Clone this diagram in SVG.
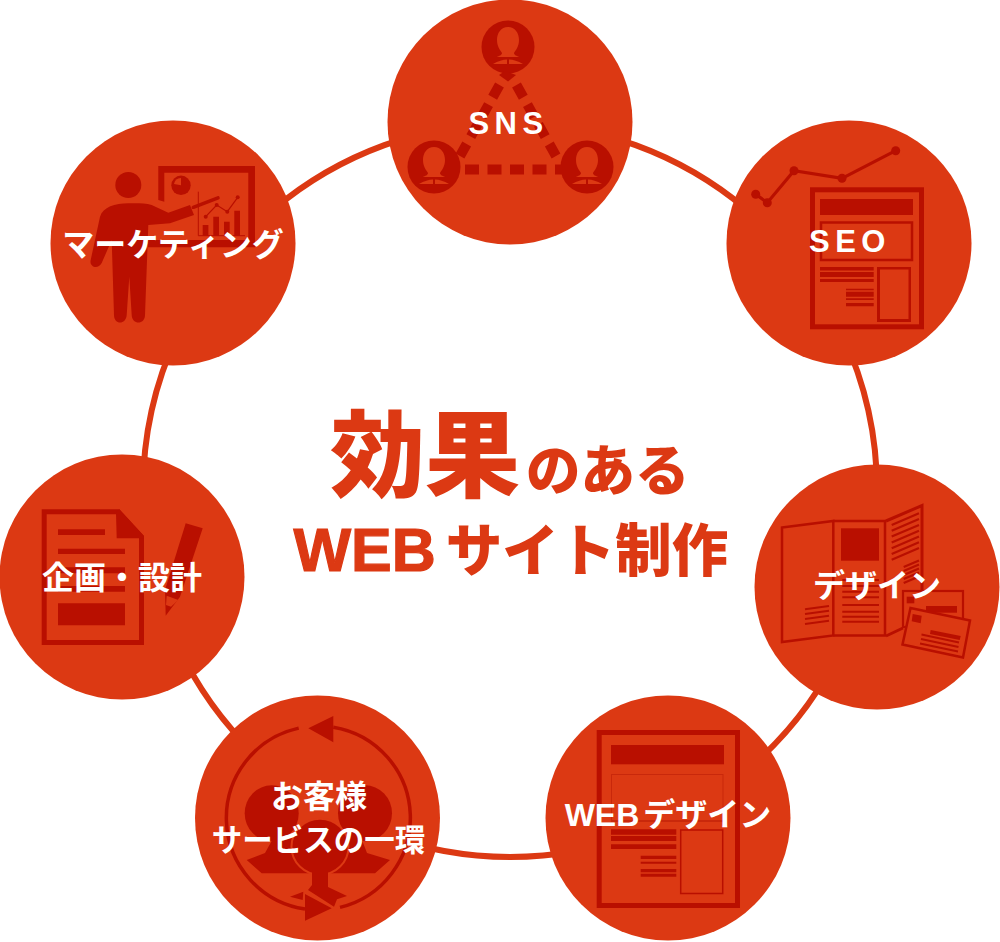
<svg xmlns="http://www.w3.org/2000/svg" width="1000" height="942" viewBox="0 0 1000 942">
<style>
.disc{fill:#dc3913}
.d{fill:#b90f00}
.o{fill:#dc3913}
.ln{fill:none;stroke:#b90f00}
.lab{fill:#fff;font-family:"Liberation Sans","Noto Sans CJK JP",sans-serif;font-weight:700;font-size:32px;text-anchor:middle}
.ttl{fill:#dc3913;font-family:"Liberation Sans","Noto Sans CJK JP",sans-serif;font-weight:900}
</style>
<defs>
<g id="user">
<circle class="d" r="26.500"/>
<path class="o" d="M0,-20C7,-20 11,-14 11,-7C11,-1 8,3 6,6C6,8 9,9 11,10L-11,10C-9,9 -6,8 -6,6C-8,3 -11,-1 -11,-7C-11,-14 -7,-20 0,-20ZM-15,17C-10,14 -5,12.500 -1,12.500L-1,17ZM1,12.500C5,12.500 10,14 15,17L1,17Z"/>
</g>
</defs>
<g id="connectors" fill="none" stroke="#dc3913" stroke-width="6">
<path d="M510,123A367,367 0 0 1 746,209"/>
<path d="M746,209A367,367 0 0 1 877,490"/>
<path d="M877,490A367,367 0 0 1 746,771"/>
<path d="M746,771A367,367 0 0 1 274,771"/>
<path d="M274,771A367,367 0 0 1 143,490"/>
<path d="M143,490A367,367 0 0 1 274,209"/>
<path d="M274,209A367,367 0 0 1 510,123"/>
</g>
<g id="node-sns">
<circle class="disc" cx="510" cy="122" r="122.500"/>
<use href="#user" x="508" y="47"/>
<use href="#user" x="434" y="167"/>
<use href="#user" x="587" y="167"/>
<path class="ln" stroke-width="10" stroke-dasharray="14 8.500" d="M465,169.500H562"/>
<path class="ln" stroke-width="10" stroke-dasharray="14 8.500" d="M499.500,85L460,156"/>
<path class="ln" stroke-width="10" stroke-dasharray="14 8.500" d="M516.500,85L556,156"/>
<path class="d" d="M505,71L516,75L508,81.500L499,75Z"/>
<text class="lab" x="508.500" y="134" letter-spacing="5.500" style="font-size:31px">SNS</text>
</g>
<g id="node-seo">
<circle class="disc" cx="849" cy="243" r="122.500"/>
<rect class="ln" x="812.500" y="189.800" width="109" height="137" stroke-width="5"/>
<rect class="d" x="820" y="199" width="93" height="16"/>
<rect class="ln" x="821" y="222.500" width="91" height="37.500" stroke-width="2.500"/>
<path class="d" d="M820,267h53.700v3.500h-53.700zM820,272h53.700v5h-53.700zM820,279h53.700v3h-53.700zM846,288.700h27.700v1.600h-27.700zM846,291.700h27.700v5h-27.700zM846,298.300h27.700v1.700h-27.700zM846,303h27.700v3.300h-27.700z"/>
<path class="d" fill-rule="evenodd" d="M877,267h34v55h-34zM880,269.500v49.500h28.500v-49.500z"/>
<path class="ln" stroke-width="3.200" d="M755.700,194.300L767.300,202.700L794,170.700L842,178.300L895.700,150.700"/>
<g class="d"><circle cx="755.700" cy="194.300" r="4.500"/><circle cx="767.300" cy="202.700" r="4.500"/><circle cx="794" cy="170.700" r="4.500"/><circle cx="842" cy="178.300" r="4.500"/><circle cx="895.700" cy="150.700" r="4.500"/></g>
<text class="lab" x="850" y="251.500" letter-spacing="5.500" style="font-size:31px">SEO</text>
</g>
<g id="node-design">
<circle class="disc" cx="877" cy="587" r="122.500"/>
<path class="ln" stroke-width="2.500" d="M782,527.500L833.300,521V635.500L782,642Z"/>
<path class="ln" stroke-width="2.500" d="M833.300,521H885V635.500H833.300"/>
<path class="ln" stroke-width="3" d="M886,521L922,505.500V592M886,636L903,628"/>
<rect class="d" x="841" y="528.300" width="38" height="32.400"/>
<path class="ln" stroke-width="2" d="M842.300,580H879M842.300,586H879M842.300,591.700H879M842.300,597.300H879M842.300,605H879M842.300,611.700H879M842.300,616.700H879M842.300,621.700H879"/>
<path class="ln" stroke-width="2" d="M805,609.300L829,606M805,614L829,610.700M805,619L829,615.700M805,624L829,620.700"/>
<path class="ln" stroke-width="2.200" d="M891.700,525L919,513.300M891.700,530.800L919,519.100M891.700,536.600L919,524.900M891.700,542.400L919,530.700M891.700,548.200L919,536.500M891.700,554L919,542.300M891.700,559.800L919,548.100M903.700,567L919,560.500M903.700,571L919,564.500M903.700,575L919,568.500M903.700,579L919,572.500M903.700,583L919,576.500"/>
<rect class="o" x="903" y="591" width="60" height="36" stroke="#b90f00" stroke-width="2.200"/>
<rect class="d" x="906.700" y="596.700" width="7.600" height="6.600"/>
<rect class="d" x="926" y="606" width="31" height="6.700"/>
<path class="o" stroke="#b90f00" stroke-width="2.500" d="M910.500,608L970,620.500L963,657.500L902.500,644.500Z"/>
<path class="d" d="M912.700,614L921.700,615.700L920.700,623.300L911.700,621.300ZM930.700,630L960.700,636L959.700,640L930,634Z"/>
<path class="ln" stroke-width="1.800" d="M921.500,634.500L959,642.500M921,639L958.500,647M920,643.500L958,651.500"/>
<text class="lab" x="877" y="597">デザイン</text>
</g>
<g id="node-web">
<circle class="disc" cx="668" cy="818" r="122.500"/>
<rect class="ln" x="599.200" y="732.500" width="138.300" height="173" stroke-width="5"/>
<rect class="d" x="611" y="745" width="113" height="19.300"/>
<rect x="611.500" y="774.500" width="111.500" height="46" fill="none" stroke="#c9280b" stroke-width="1"/>
<path d="M611,821H723" stroke="#c9280b" stroke-width="2"/>
<path class="d" d="M611,829.300h65.300v5.400h-65.300zM611,836h65.300v5h-65.300zM611,844.300h65.300v4.700h-65.300zM640.700,855.700h35.600v3.300h-35.600zM640.700,861.700h35.600v2h-35.600zM640.700,869h35.600v3.300h-35.600zM640.700,873.700h35.600v3h-35.600z"/>
<rect class="ln" x="680.700" y="830" width="42" height="63.500" stroke-width="1.500"/>
<text class="lab" x="668" y="825.500">WEB<tspan dx="4">デザイン</tspan></text>
</g>
<g id="node-customer">
<circle class="disc" cx="317.500" cy="818" r="122.500"/>
<path class="ln" stroke-width="3.500" d="M298.700,728.100A92,92 0 0 0 305,909M333.300,727.200A92,92 0 0 1 340,907.400"/>
<path class="d" d="M333.300,716V742.300L308.300,728.300ZM305,894V920.700L331.700,908.300Z"/>
<ellipse class="d" cx="271.700" cy="813.300" rx="27" ry="28"/>
<ellipse class="d" cx="365" cy="813.300" rx="27" ry="28"/>
<path class="d" d="M246.700,860L265,853L275,835H360L367,853L390,860L375,873.300H261.700Z"/>
<ellipse cx="320" cy="846.700" rx="28.500" ry="28" class="d" stroke="#dc3913" stroke-width="2"/>
<path class="d" d="M312,868H328V887L347,896L337,899.300L334,906.700L308,890L312,885ZM290,896.700L303.300,891.700L302.700,900Z"/>
<text class="lab"><tspan x="319" y="808">お客様</tspan><tspan x="318.500" y="851" style="font-size:30.500px">サービスの一環</tspan></text>
</g>
<g id="node-plan">
<circle class="disc" cx="122" cy="577" r="122.500"/>
<path class="ln" stroke-width="5" d="M44.200,511.800H118.300L141.500,537V642.500H44.200Z"/>
<path class="d" d="M119.300,509.300L144,536L144,538.300L116.700,538.300L116,513Z"/>
<path class="d" d="M58,529.300h47v5.700h-47zM58,548.700h67v5.300h-67zM58,567.300h67v6h-67zM58,586h67v5.700h-67zM58,603.300h67v22h-67z"/>
<path class="d" d="M185.700,523.300L202.700,528.300L180,596.700L165.700,615.700L165,590Z"/>
<path class="o" d="M166.700,595.700L178.300,600L171,606.700L166,605Z"/>
<text class="lab" x="122" y="588.500">企画・設計</text>
</g>
<g id="node-marketing">
<circle class="disc" cx="173" cy="243" r="122.500"/>
<path class="d" d="M158.300,166H255V247.300H148V240H248.300V172.700H164.300V201.700L158.300,200Z"/>
<circle class="d" cx="181" cy="185.300" r="9.700"/>
<path class="o" d="M181,185.300V178A7.300,7.300 0 0 0 174,184Z"/>
<path class="ln" stroke-width="1" d="M198.300,191.700V235.700H245"/>
<path class="d" d="M202.700,225h5.700v10.700h-5.700zM213.300,216.700h5.700v19h-5.700zM224,221.700h5.700v14h-5.700zM234.300,210.700h5.700v25h-5.700z"/>
<path class="ln" stroke-width="1.200" d="M205.700,216.700L216.700,205L227.300,211.700L237.700,197.300"/>
<g class="d"><circle cx="205.700" cy="216.700" r="2"/><circle cx="216.700" cy="205" r="2"/><circle cx="227.300" cy="211.700" r="2"/><circle cx="237.700" cy="197.300" r="2"/></g>
<circle class="d" cx="128.300" cy="185" r="13"/>
<path class="d" d="M128.300,203.300C137,203.300 145,203 151.700,205L168.300,212.700L190,205L194,215L170,223.300L148.300,225L145,315C145,325 132,325 131.700,315L129.300,276.700L126.700,315C126,325 114,325 114,315L111.700,240L101.700,263C98,270 89,267 90.700,260L100,216.700C103,207 115,203.300 128.300,203.300Z"/>
<path class="ln" stroke-width="3.500" stroke-linecap="round" d="M193.300,207.300L218,197.800"/>
<text class="lab" x="173" y="256">マーケティング</text>
</g>
<g id="title">
<text class="ttl" x="330" y="490" font-size="95">効果<tspan font-size="54.500" dx="6">のある</tspan></text>
<text class="ttl" x="293.500" y="571" font-size="61"><tspan stroke="#dc3913" stroke-width="1.200">WEB</tspan><tspan font-size="56.500" dx="10">サイト制作</tspan></text>
</g>
</svg>
